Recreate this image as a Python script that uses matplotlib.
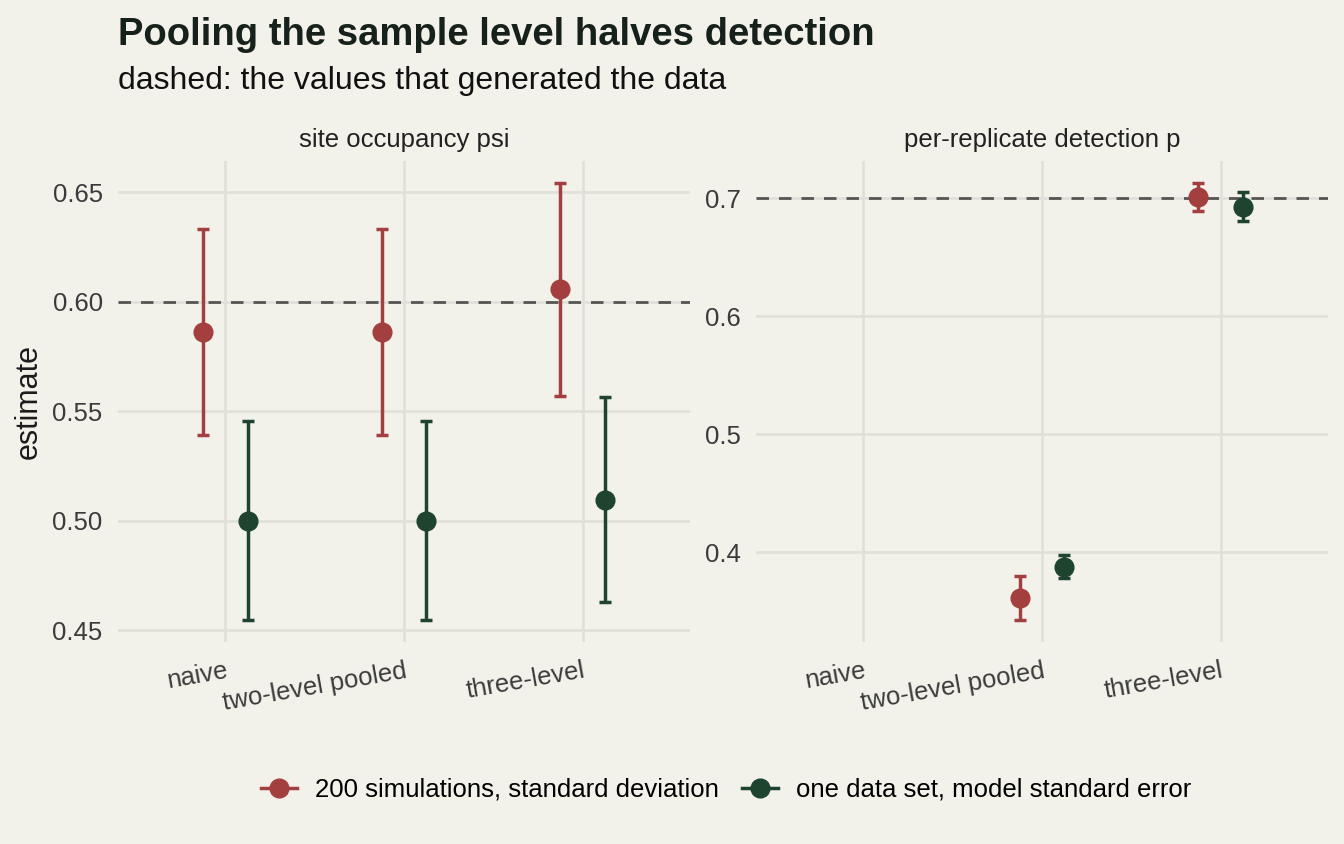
import numpy as np
import matplotlib
matplotlib.use("Agg")
import matplotlib.pyplot as plt
from matplotlib.lines import Line2D

plt.rcParams['font.family'] = ['Liberation Sans', 'DejaVu Sans']

# data
methods = ['naive', 'two-level pooled', 'three-level']
panels = ['site occupancy psi', 'per-replicate detection p']
truth = [0.60, 0.70]

# 200 simulations: mean and standard deviation
sim_mean_psi = [0.586, 0.586, 0.6055]
sim_sd_psi = [0.047, 0.047, 0.0487]
sim_mean_p = [np.nan, 0.3614, 0.701]
sim_sd_p = [np.nan, 0.0187, 0.012]

# one data set: estimate and model standard error
one_est_psi = [0.500, 0.500, 0.5095]
one_se_psi = [0.0455, 0.0455, 0.0467]
one_est_p = [np.nan, 0.388, 0.6929]
one_se_p = [np.nan, 0.0099, 0.012]

yticks_psi = [0.45, 0.50, 0.55, 0.60, 0.65]
yticks_p = [0.4, 0.5, 0.6, 0.7]

series_labels = ['200 simulations, standard deviation', 'one data set, model standard error']
red = '#A43F40'
green = '#1E4430'
bg = '#F2F1EA'
grid = '#E1E0D8'

fig = plt.figure(figsize=(13.44, 8.44), dpi=100, facecolor=bg)
ax1 = fig.add_axes([0.0878, 0.2393, 0.4256, 0.570])
ax2 = fig.add_axes([0.5625, 0.2393, 0.4256, 0.570])

panel_data = [
    (ax1, sim_mean_psi, sim_sd_psi, one_est_psi, one_se_psi, yticks_psi, '{:.2f}'),
    (ax2, sim_mean_p, sim_sd_p, one_est_p, one_se_p, yticks_p, '{:.1f}'),
]

x = np.arange(1, len(methods) + 1)
dodge = 0.125
for i, (ax, sm, ss, om, os_, yt, fmt) in enumerate(panel_data):
    ax.set_facecolor(bg)
    for s in ax.spines.values():
        s.set_visible(False)
    ax.axhline(truth[i], color='#555555', lw=2, dashes=(4.5, 3.6), zorder=2)
    for xm, m, e, c in [(x - dodge, sm, ss, red), (x + dodge, om, os_, green)]:
        ax.errorbar(xm, m, yerr=e, fmt='o', color=c, ms=13.5, lw=2.5,
                    capsize=4.5, capthick=2.5, zorder=3)
    lo = np.nanmin(np.r_[np.array(sm) - np.array(ss), np.array(om) - np.array(os_), truth[i]])
    hi = np.nanmax(np.r_[np.array(sm) + np.array(ss), np.array(om) + np.array(os_), truth[i]])
    pad = (hi - lo) * 0.05
    ax.set_ylim(lo - pad, hi + pad)
    ax.set_xlim(0.4, 3.6)
    ax.set_yticks(yt)
    ax.set_yticklabels([fmt.format(v) for v in yt])
    ax.set_xticks(x)
    ax.set_xticklabels(methods, rotation=10, ha='right', va='top', rotation_mode='anchor')
    ax.tick_params(length=0, labelsize=18.5, labelcolor='#3b3b3b')
    ax.tick_params(axis='y', pad=11)
    ax.tick_params(axis='x', pad=12)
    ax.grid(True, color=grid, lw=1.9, zorder=0)
    ax.set_axisbelow(True)
    ax.set_title(panels[i], fontsize=18.5, color='#222222', pad=10)

ax1.set_ylabel('estimate', fontsize=22, color='#1b1b1b', labelpad=6)

fig.text(0.0878, 0.958, 'Pooling the sample level halves detection', fontsize=27.5,
         fontweight='bold', color='#17211B', va='center', ha='left')
fig.text(0.0878, 0.904, 'dashed: the values that generated the data', fontsize=23,
         color='#111111', va='center', ha='left')

handles = [Line2D([0], [0], color=c, marker='o', ms=13.5, lw=2.5) for c in (red, green)]
fig.legend(handles, series_labels, loc='center', bbox_to_anchor=(0.54, 1 - 790 / 844),
           ncol=2, frameon=False, fontsize=18.5, handlelength=1.4, handletextpad=0.7,
           columnspacing=0.9)

fig.savefig('out.png', dpi=100, facecolor=bg)
